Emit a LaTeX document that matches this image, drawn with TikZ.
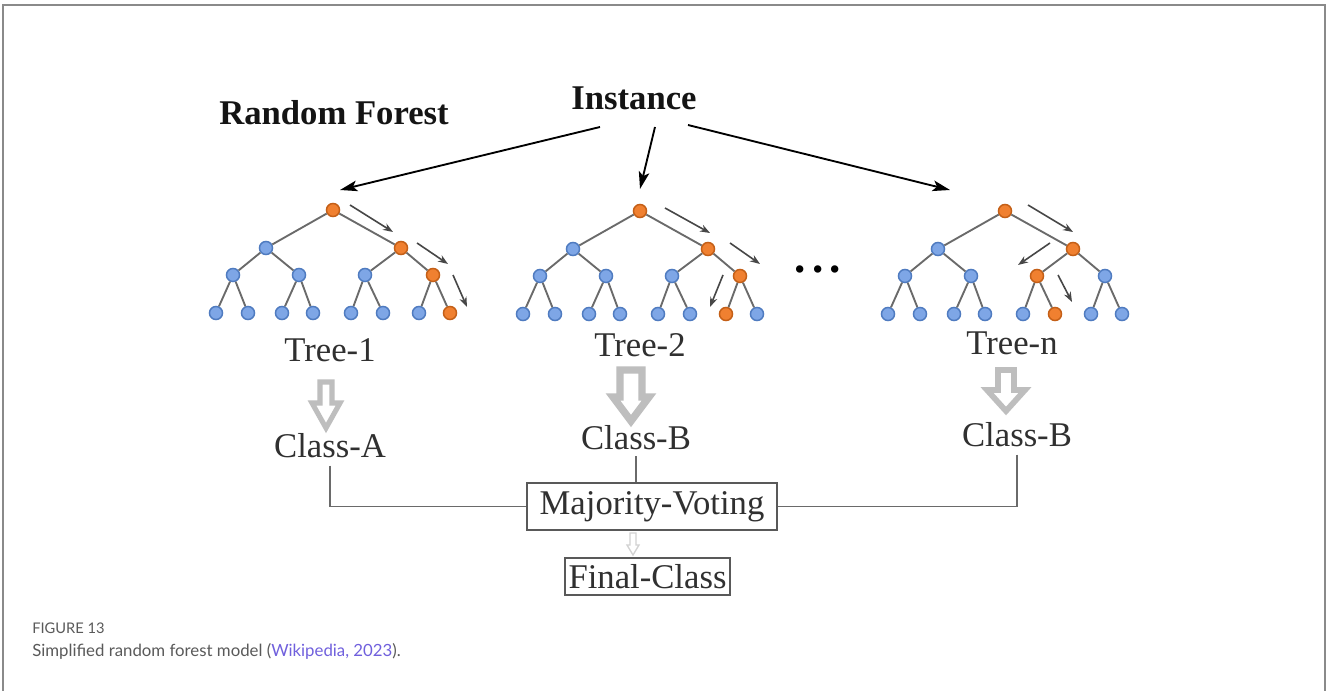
\documentclass[tikz,border=0pt]{standalone}
\usepackage{fontspec}
\setmainfont{Liberation Serif}
\newfontfamily\capfont{Lato}
\usetikzlibrary{arrows.meta}
\definecolor{nodeblue}{HTML}{7EA6E6}
\definecolor{nodeblueline}{HTML}{4F7BC0}
\definecolor{nodeorange}{HTML}{F08030}
\definecolor{nodeorangeline}{HTML}{C45F17}
\definecolor{edgegray}{HTML}{6A6A6A}
\definecolor{txtgray}{HTML}{303030}
\definecolor{hollowgray}{HTML}{BEBEBE}
\definecolor{lighthollow}{HTML}{D2D2D2}
\definecolor{framegray}{HTML}{8A8A8A}
\definecolor{linkpurple}{HTML}{7060DD}
\definecolor{capgray}{HTML}{5A5A5A}
\tikzset{
  bn/.style={circle, fill=nodeblue, draw=nodeblueline, line width=1.1pt, minimum size=9.8pt, inner sep=0pt},
  on/.style={circle, fill=nodeorange, draw=nodeorangeline, line width=1.1pt, minimum size=9.8pt, inner sep=0pt},
  edge/.style={draw=edgegray, line width=1.4pt},
  patharrow/.style={draw=black!72, line width=1.2pt, -{Stealth[length=7.5pt,width=5.5pt]}},
  instarrow/.style={draw=black, line width=1.4pt, -{Stealth[length=13pt,width=8pt,inset=3pt]}},
  big/.style={font=\fontsize{26}{30}\selectfont, text=txtgray, inner sep=0pt},
  bigbold/.style={font=\fontsize{26}{30}\selectfont\bfseries, text=black!92, inner sep=0pt},
  box/.style={draw=black!65, line width=1.1pt, font=\fontsize{26}{30}\selectfont, text=txtgray, inner sep=0pt},
  joinline/.style={draw=edgegray, line width=1.4pt},
  hollow/.style={draw=hollowgray, fill=white, line join=miter},
}
\newcommand{\rftree}[8]{%
\begin{scope}[shift={(#2,#3)}]
  \node[on] (#1-r) at (0,0) {};
  \node[bn] (#1-a) at (-67,38) {};
  \node[on] (#1-b) at (68,38) {};
  \node[bn] (#1-aa) at (-100,65) {};
  \node[bn] (#1-ab) at (-34,65) {};
  \node[#4] (#1-ba) at (32,65) {};
  \node[#5] (#1-bb) at (100,65) {};
  \node[bn] (#1-aaa) at (-117,103) {};
  \node[bn] (#1-aab) at (-85,103) {};
  \node[bn] (#1-aba) at (-51,103) {};
  \node[bn] (#1-abb) at (-20,103) {};
  \node[bn] (#1-baa) at (18,103) {};
  \node[#6] (#1-bab) at (50,103) {};
  \node[#7] (#1-bba) at (86,103) {};
  \node[#8] (#1-bbb) at (117,103) {};
  \foreach \p/\c in {r/a,r/b,a/aa,a/ab,b/ba,b/bb,aa/aaa,aa/aab,ab/aba,ab/abb,ba/baa,ba/bab,bb/bba,bb/bbb}
    \draw[edge] (#1-\p) -- (#1-\c);
\end{scope}}
\newcommand{\hollowarr}[8]{% name, x, ytop, yhead, ytip, shaft hw, head hw, line width
  \coordinate (#1) at (#2,#3);
  \draw[hollow, line width=#8] (#2-#6,#3) -- (#2+#6,#3) -- (#2+#6,#4) -- (#2+#7,#4) -- (#2,#5) -- (#2-#7,#4) -- (#2-#6,#4) -- cycle;}
\begin{document}
\begin{tikzpicture}[x=0.75pt, y=-0.75pt]
\useasboundingbox (0,0) rectangle (1327,691);
\fill[white] (0,0) rectangle (1327,691);
\draw[framegray, line width=1.5pt] (3,691) -- (3,5) -- (1325,5) -- (1325,691);

% titles
\node[bigbold, anchor=base] (inst) at (634,110) {Instance};
\node[bigbold, anchor=base west] (rf) at (219,125) {Random Forest};

% trees
\rftree{t1}{333}{210}{bn}{on}{bn}{bn}{on}
\rftree{t2}{640}{211}{bn}{on}{bn}{on}{bn}
\rftree{tn}{1005}{211}{on}{bn}{on}{bn}{bn}

% instance arrows
\coordinate (il) at (600,127);  \coordinate (ilt) at (340,190);
\coordinate (im) at (655,127);  \coordinate (imt) at (640,189);
\coordinate (ir) at (688,125);  \coordinate (irt) at (950,190);
\draw[instarrow] (il) -- (ilt);
\draw[instarrow] (im) -- (imt);
\draw[instarrow] (ir) -- (irt);

% decision path arrows
\coordinate (a11) at (350,205); \coordinate (a12) at (393,232);
\coordinate (a13) at (417,243); \coordinate (a14) at (448,264);
\coordinate (a15) at (453,275); \coordinate (a16) at (467,307);
\coordinate (a21) at (665,208); \coordinate (a22) at (710,233);
\coordinate (a23) at (730,243); \coordinate (a24) at (760,264);
\coordinate (a25) at (723,275); \coordinate (a26) at (710,307);
\coordinate (an1) at (1028,205); \coordinate (an2) at (1073,232);
\coordinate (an3) at (1050,243); \coordinate (an4) at (1018,265);
\coordinate (an5) at (1058,275); \coordinate (an6) at (1072,302);
\foreach \s/\e in {a11/a12,a13/a14,a15/a16,a21/a22,a23/a24,a25/a26,an1/an2,an3/an4,an5/an6}
  \draw[patharrow] (\s) -- (\e);

% dots
\node[anchor=base, font=\fontsize{34}{34}\selectfont\bfseries, inner sep=0pt] (dots) at (818,273) {.\hspace{4.6pt}.\hspace{4.6pt}.};

% tree labels
\node[big, anchor=base] (lt1) at (330,362) {Tree-1};
\node[big, anchor=base] (lt2) at (640,357) {Tree-2};
\node[big, anchor=base] (ltn) at (1012,354) {Tree-n};

% hollow arrows
\hollowarr{h1}{326}{382}{403}{428}{6}{14}{3.8pt}
\hollowarr{h2}{631}{370}{397}{421}{11}{18}{5.5pt}
\hollowarr{hn}{1006}{370}{390}{411}{8}{19}{4.3pt}

% class labels
\node[big, anchor=base] (ca) at (330,457) {Class-A};
\node[big, anchor=base] (cb) at (636,449) {Class-B};
\node[big, anchor=base] (cn) at (1017,446) {Class-B};

% voting
\node[box, minimum width=187.5pt, minimum height=35.25pt] (mv) at (652,506.5) {Majority-Voting};
\node[box, minimum width=123.75pt, minimum height=27.75pt] (fc) at (647.5,576.5) {Final-Class};

\draw[joinline] ([yshift=-6pt]ca.south) |- (mv.west);
\draw[joinline] ([yshift=-5pt]cb.south) -- (cb.south |- mv.north);
\draw[joinline] ([yshift=-6pt]cn.south) |- (mv.east);

\draw[draw=lighthollow, fill=white, line width=1pt] (630,533) -- (636,533) -- (636,545) -- (639,545) -- (633,555) -- (627,545) -- (630,545) -- cycle;

% caption
\node[anchor=base west, inner sep=0pt, font=\capfont\fontsize{11}{13}\selectfont, text=capgray] (figlab) at (32,633) {FIGURE 13};
\node[anchor=base west, inner sep=0pt, font=\capfont\fontsize{12.6}{15}\selectfont, text=capgray] (cap) at (32,656) {Simplified random forest model (\textcolor{linkpurple}{Wikipedia, 2023}).};
\end{tikzpicture}
\end{document}
